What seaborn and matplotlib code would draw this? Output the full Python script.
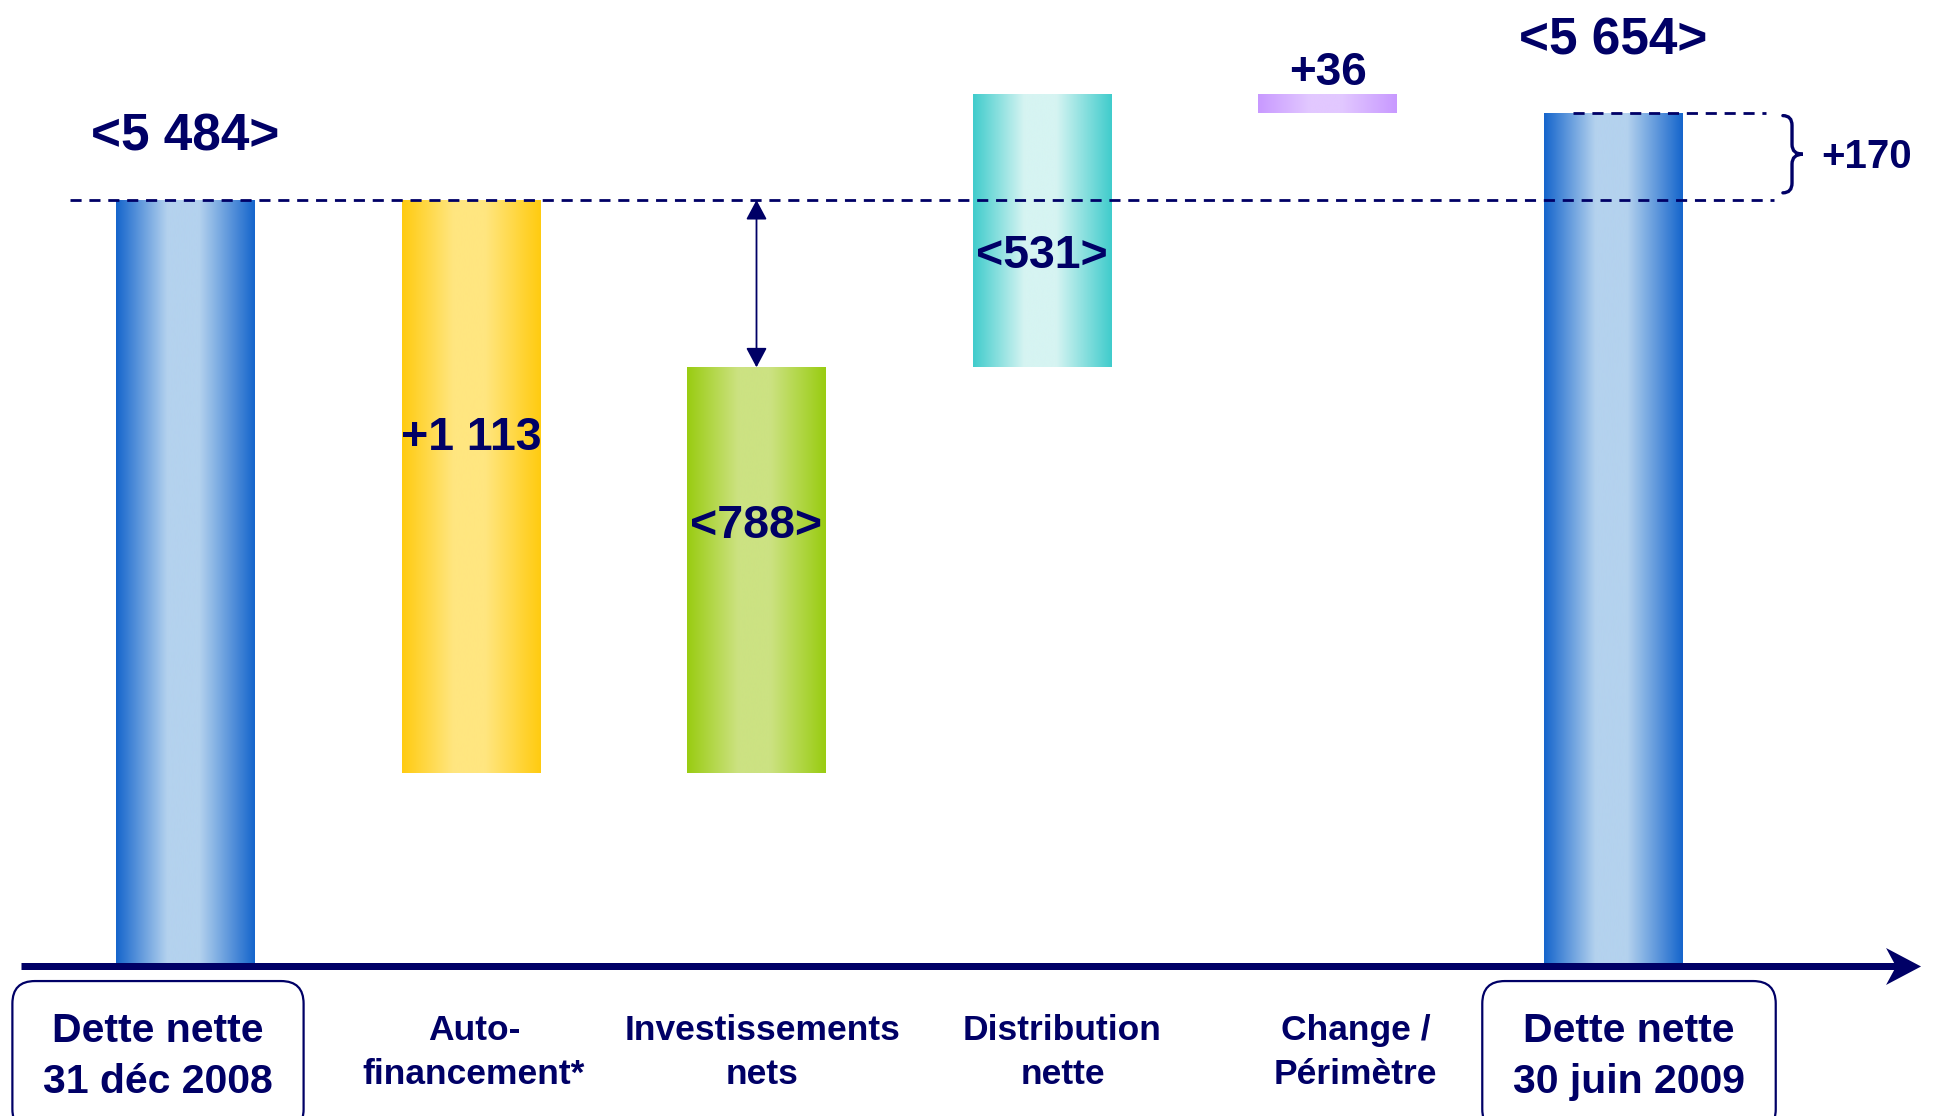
import numpy as np
import pandas as pd
import matplotlib.pyplot as plt
import seaborn as sns
from matplotlib.colors import LinearSegmentedColormap
from matplotlib.path import Path
from matplotlib.patches import PathPatch, Polygon
from matplotlib.transforms import ScaledTranslation, blended_transform_factory


# Données : évolution de la dette nette (M€)
etapes = ["Dette nette\n31 déc 2008", "Auto-\nfinancement*", "Investissements\nnets",
          "Distribution\nnette", "Change /\nPérimètre", "Dette nette\n30 juin 2009"]
dette_debut = 5484
variations = [-1113, 788, 531, -36]
dette_fin = 5654
etiquettes = ["<5 484>", "+1 113", "<788>", "<531>", "+36", "<5 654>"]
ecart_total = "+170"
plancher = 4000  # axe coupé : les barres pleines partent de ce niveau

# Couleurs (bord, centre) des dégradés
couleurs = [("#1565CC", "#B4D2EE"), ("#FFCB10", "#FFE680"), ("#99CC11", "#CCE282"),
            ("#40CCCC", "#D6F4F2"), ("#C899FF", "#E2C8FF"), ("#1565CC", "#B4D2EE")]
BLEU_NUIT = "#000066"
PT = 72 / 100  # pixels -> points (dpi 100)

# Bas / haut de chaque barre (cascade)
niveaux = np.cumsum([dette_debut] + variations)
bas = [plancher] + [min(a, b) for a, b in zip(niveaux[:-1], niveaux[1:])] + [plancher]
haut = [dette_debut] + [max(a, b) for a, b in zip(niveaux[:-1], niveaux[1:])] + [dette_fin]
df = pd.DataFrame({"etape": etapes, "hauteur": np.array(haut) - np.array(bas)})

sns.set_theme(style="white")
plt.rcParams["font.family"] = ["Liberation Sans", "DejaVu Sans"]

fig = plt.figure(figsize=(19.34, 11.16), dpi=100)
ax = fig.add_axes([0, 0, 1, 1])
sns.barplot(data=df, x="etape", y="hauteur", color=couleurs[0][0], width=0.484,
            errorbar=None, ax=ax)

# Décaler les barres et remplir avec un dégradé horizontal
degrade = np.linspace(0, 1, 256).reshape(1, -1)
for patch, b, (bord, centre) in zip(ax.patches, bas, couleurs):
    patch.set_y(b)
    cmap = LinearSegmentedColormap.from_list(
        "", [(0, bord), (0.37, centre), (0.6, centre), (1, bord)])
    x0, w, h = patch.get_x(), patch.get_width(), patch.get_height()
    im = ax.imshow(degrade, cmap=cmap, extent=(x0, x0 + w, b, b + h),
                   aspect="auto", interpolation="bicubic", zorder=2)
    im.set_clip_path(patch)
    patch.set_facecolor("none")
    patch.set_edgecolor("none")

ax.set_xlim(-0.6497, 6.1243)
ax.set_ylim(3704.7, 5872.6)
ax.axis("off")

# Étiquettes des valeurs
decal_etiq = [50, -250, -171, -174, 9, 58]
taille_etiq = [37, 33.5, 33.5, 33.5, 33, 37]
for i, (txt, y, dy, t) in enumerate(zip(etiquettes, haut, decal_etiq, taille_etiq)):
    ax.annotate(txt, xy=(i, y), xytext=(0, dy * PT), textcoords="offset points",
                ha="center", va="baseline", fontsize=t, fontweight="bold",
                color=BLEU_NUIT, zorder=5)

# Lignes pointillées de référence
ax.hlines(dette_debut, -0.405, 5.564, colors=BLEU_NUIT, lw=2, linestyles=(0, (4, 2.8)), zorder=3)
ax.hlines(dette_fin, 4.86, 5.536, colors=BLEU_NUIT, lw=2, linestyles=(0, (4, 2.8)), zorder=3)

# Flèche verticale (investissements)
ax.annotate("", xy=(2, haut[2]), xytext=(2, dette_debut),
            arrowprops=dict(arrowstyle="<|-|>,head_length=0.6,head_width=0.32",
                            color=BLEU_NUIT, lw=1.3, shrinkA=0, shrinkB=0,
                            mutation_scale=20), zorder=4)

# Accolade +170
y_h = dette_fin - 6
y_b = dette_debut + 14
y_m = (y_h + y_b) / 2
xa, xs, xt, r = 5.595, 5.627, 5.665, 19
verts = [(xa, y_h), (xs, y_h), (xs, y_h - r), (xs, y_m + r), (xs, y_m), (xt, y_m),
         (xs, y_m), (xs, y_m - r), (xs, y_b + r), (xs, y_b), (xa, y_b)]
codes = [Path.MOVETO, Path.CURVE3, Path.CURVE3, Path.LINETO, Path.CURVE3, Path.CURVE3,
         Path.CURVE3, Path.CURVE3, Path.LINETO, Path.CURVE3, Path.CURVE3]
ax.add_patch(PathPatch(Path(verts, codes), fc="none", ec=BLEU_NUIT, lw=2.4,
                       capstyle="round", zorder=4))
ax.text(5.7285, y_m - 27, ecart_total, ha="left", va="baseline", fontsize=29,
        fontweight="bold", color=BLEU_NUIT)

# Axe horizontal avec flèche
trans_axe = blended_transform_factory(ax.transAxes, ax.transData)
y_axe = plancher - 2.5 / 0.5148
ax.plot([0.011, 0.987], [y_axe, y_axe], color=BLEU_NUIT, lw=7 * PT,
        solid_capstyle="butt", transform=trans_axe, zorder=4)
pointe = fig.dpi_scale_trans + ScaledTranslation(0.9933, y_axe, trans_axe)
ax.add_patch(Polygon([(0, 0), (-0.35, 0.185), (-0.25, 0), (-0.35, -0.185)],
                     closed=True, fc=BLEU_NUIT, ec="none", transform=pointe, zorder=4))

# Libellés des catégories (ligne de base de la dernière ligne)
decal_lib = [-27.5, 3, 6, 20.5, 28, 16]
for i, (lib, dx) in enumerate(zip(etapes, decal_lib)):
    encadre = i in (0, len(etapes) - 1)
    if encadre:
        kw = dict(fontsize=29.5, bbox=dict(boxstyle="round,pad=0.75,rounding_size=0.55",
                                           fc="white", ec=BLEU_NUIT, lw=1.6))
        dy = -129
    else:
        kw = dict(fontsize=25.5)
        dy = -120
    ax.annotate(lib, xy=(i, plancher), xytext=(dx * PT, dy * PT), textcoords="offset points",
                ha="center", va="baseline", multialignment="center", linespacing=1.44,
                fontweight="bold", color=BLEU_NUIT, **kw)

fig.savefig("out.png", dpi=100)
